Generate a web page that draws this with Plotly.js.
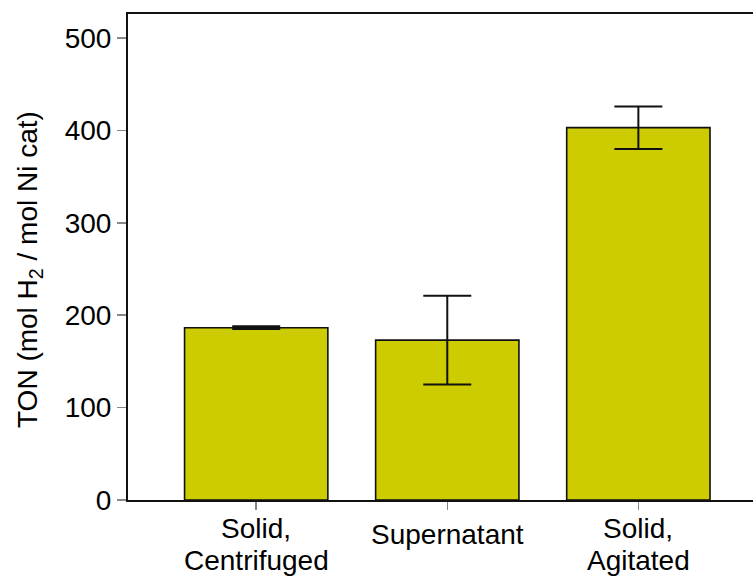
<!DOCTYPE html>
<html>
<head>
<meta charset="utf-8">
<script src="https://cdn.plot.ly/plotly-3.0.1.min.js"></script>
<style>
html,body{margin:0;padding:0;overflow:hidden;background:#fff;}
#chart{width:753px;height:579px;}
</style>
</head>
<body>
<div id="chart"></div>
<script>
// Category labels, one list of text lines per bar
const categoryLines = [["Solid,", "Centrifuged"], ["Supernatant"], ["Solid,", "Agitated"]];
const tonValues = [186.5, 173, 403];
const tonErrors = [1.5, 48, 23];
const yTickValues = [0, 100, 200, 300, 400, 500];
const yTitle = 'TON (mol H<sub>2</sub> / mol Ni cat)';

const xPositions = categoryLines.map((_, i) => i);

const trace = {
  type: 'bar',
  x: xPositions,
  y: tonValues,
  width: 0.75,
  marker: {color: '#CCCC00', line: {color: '#111111', width: 1.6}},
  error_y: {type: 'data', array: tonErrors, visible: true, color: '#111111', thickness: 2, width: 24},
  hoverinfo: 'skip'
};

// plot area: left 128px, top 14px, bottom 500px
const plotLeft = 128, plotTop = 14, plotBottom = 500, plotH = plotBottom - plotTop, plotW = 753 - plotLeft;
const annotations = [];
categoryLines.forEach((lines, i) => {
  lines.forEach((line, j) => {
    const centerPx = lines.length === 1 ? 534 : 528 + 32 * j;
    annotations.push({
      text: line, x: i, xref: 'x', y: -(centerPx - plotBottom) / plotH, yref: 'paper',
      xanchor: 'center', yanchor: 'middle', showarrow: false,
      font: {size: 28, color: '#000000'}
    });
  });
});
annotations.push({
  text: yTitle, textangle: -90, showarrow: false,
  xref: 'paper', x: (29 - plotLeft) / plotW, xanchor: 'center',
  yref: 'paper', y: (plotBottom - 270) / plotH, yanchor: 'middle',
  font: {size: 28, color: '#000000'}
});

const layout = {
  width: 753, height: 579,
  margin: {l: plotLeft, r: 0, t: plotTop, b: 579 - plotBottom},
  paper_bgcolor: '#ffffff', plot_bgcolor: '#ffffff',
  font: {family: 'Liberation Sans, Arial, sans-serif', size: 28, color: '#000000'},
  showlegend: false,
  annotations: annotations,
  xaxis: {
    range: [-0.671, 2.6],
    tickmode: 'array', tickvals: xPositions, showticklabels: false,
    ticks: 'outside', ticklen: 8, tickcolor: '#888888', tickwidth: 1.5,
    showline: true, linecolor: '#111111', linewidth: 2, mirror: true,
    showgrid: false, zeroline: false
  },
  yaxis: {
    range: [0, 526],
    tickmode: 'array', tickvals: yTickValues,
    ticks: 'outside', ticklen: 9, tickcolor: '#888888', tickwidth: 1.5,
    showline: true, linecolor: '#111111', linewidth: 2, mirror: false,
    showgrid: false, zeroline: false,
    tickfont: {size: 28}
  }
};

Plotly.newPlot('chart', [trace], layout, {staticPlot: true, displayModeBar: false});
</script>
</body>
</html>
